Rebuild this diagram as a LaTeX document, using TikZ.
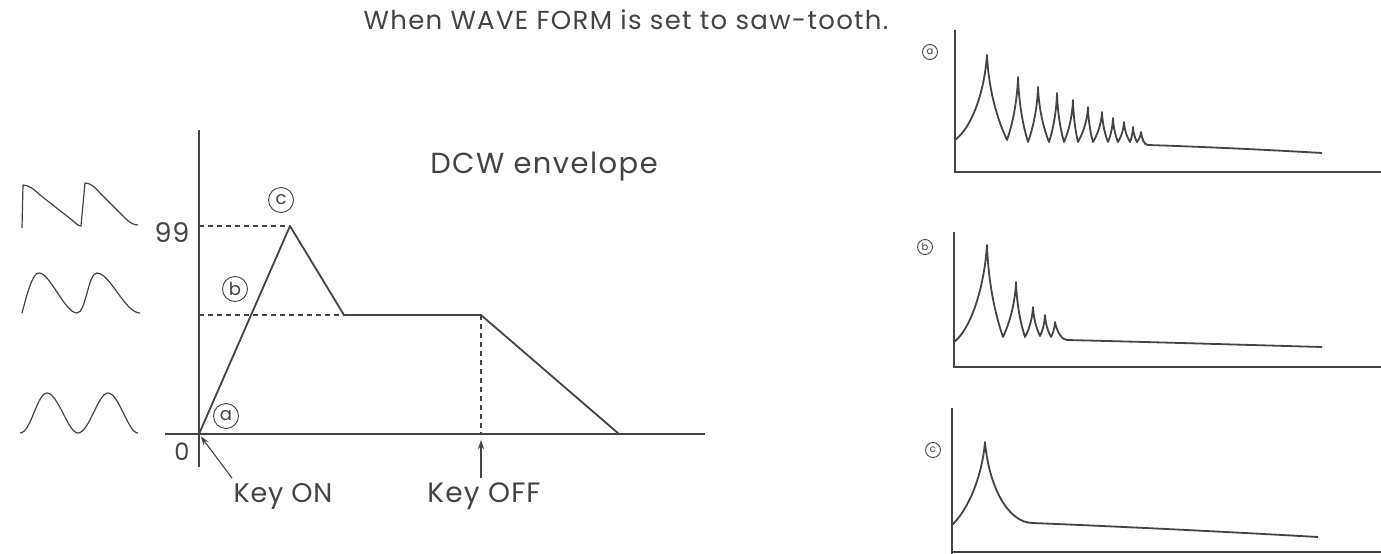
\documentclass[tikz,border=0pt]{standalone}
\usepackage{fontspec}
\setmainfont{Poppins}
\usetikzlibrary{arrows.meta}
\definecolor{ink}{HTML}{444444}
\begin{document}
\begin{tikzpicture}[x=1pt,y=-1pt]
\tikzset{
  lbl/.style={text=ink, font=\fontsize{27}{29}\selectfont\addfontfeature{LetterSpace=3}, inner sep=0pt},
  circ/.style={circle, draw=ink, line width=0.9pt, inner sep=0pt, minimum size=25pt, font=\fontsize{18}{18}\selectfont, text=ink},
  smallcirc/.style={circle, draw=ink, line width=0.9pt, inner sep=0pt, minimum size=15pt, font=\fontsize{10}{10}\selectfont, text=ink},
  axis/.style={line width=1.8pt, draw=ink},
  curve/.style={line width=1.8pt, draw=ink, line join=round},
  wave/.style={line width=1.2pt, draw=ink, line join=round},
  guide/.style={draw=ink, line width=1.1pt, dash pattern=on 5pt off 4pt},
  pointer/.style={draw=ink, line width=1.1pt, -{Stealth[length=9pt,width=6pt]}},
}
\useasboundingbox (0,0) rectangle (1381,554);
\fill[white] (0,0) rectangle (1381,554);

% title
\node[lbl, font=\fontsize{26}{28}\selectfont\addfontfeature{LetterSpace=5}] (title) at (626,20) {When WAVE FORM is set to saw-tooth.};
\node[lbl, font=\fontsize{29}{31}\selectfont\addfontfeature{LetterSpace=5}] (dcw) at (544,167) {DCW envelope};

% main graph
\coordinate (O) at (199,434);
\coordinate (ytop) at (199,130);
\coordinate (ybot) at (199,467);
\coordinate (xl) at (165,434);
\coordinate (xr) at (705,434);
\coordinate (P) at (290,226);
\coordinate (S1) at (344,315);
\coordinate (S2) at (481,315);
\coordinate (E) at (619,434);
\draw[axis] (ytop) -- (ybot);
\draw[axis] (xl) -- (xr);
\draw[guide] (O |- P) -- (P);
\draw[guide] (O |- S1) -- (S1);
\draw[guide] (S2) -- (S2 |- O);
\draw[curve] (O) -- (P) -- (S1) -- (S2) -- (E);

\node[lbl] (n99) at (172,233) {99};
\node[lbl, font=\fontsize{24}{26}\selectfont] (n0) at (182,452) {0};
\node[circ] (ca) at (226,416) {a};
\node[circ] (cb) at (235,289) {b};
\node[circ] (cc) at (281,200) {c};

\node[lbl] (keyon) at (283,496) {Key ON};
\node[lbl, font=\fontsize{28}{30}\selectfont\addfontfeature{LetterSpace=4}] (keyoff) at (484,496) {Key OFF};
\coordinate (konstart) at (232,478);
\coordinate (koffstart) at (481,478);
\draw[pointer, shorten >=3pt] (konstart) -- (O);
\draw[pointer, shorten >=6pt] (koffstart) -- (S2 |- O);

% left waveforms
\draw[wave] (22,228) -- (23,185) .. controls (28,185) and (34,189) .. (40,195)
  -- (72,220) .. controls (76,224) and (79,226) .. (81,226) -- (85,183)
  .. controls (90,183) and (95,187) .. (100,193) -- (125,218)
  .. controls (130,223) and (134,225) .. (138,225);
\draw[wave] (22,313) .. controls (28,290) and (33,273) .. (39,273)
  .. controls (50,273) and (65,313) .. (77,313)
  .. controls (86,313) and (88,273) .. (97,273)
  .. controls (110,273) and (125,313) .. (140,313);
\draw[wave] (20,433) .. controls (31,433) and (37,393) .. (47,393)
  .. controls (58,393) and (68,433) .. (78,433)
  .. controls (89,433) and (98,393) .. (108,393)
  .. controls (119,393) and (128,433) .. (138,433);

% right chart a
\draw[axis] (955,30) -- (955,172) -- (1381,172);
\node[smallcirc] (ra) at (930,52) {a};
\draw[curve] (955,140) .. controls +(16,-12) and +(-3,40) .. (987,55)
  \foreach \ppx/\ppy/\tx/\ty/\px/\py in {
    987/55/1007/140/1018/77,
    1018/77/1028/142/1038/87,
    1038/87/1049/142/1057/93,
    1057/93/1064/142/1073/100,
    1073/100/1078/142/1088/107,
    1088/107/1093/142/1102/112,
    1102/112/1108/142/1113/118,
    1113/118/1118/142/1124/122,
    1124/122/1130/142/1133/127,
    1133/127/1137/142/1141/132}{
    .. controls +({0.1*(\tx-\ppx)},{0.5*(\ty-\ppy)}) and +({-0.3*(\tx-\ppx)},{-0.15*(\ty-\ppy)}) .. (\tx,\ty)
    .. controls +({0.3*(\px-\tx)},{-0.15*(\ty-\py)}) and +({-0.1*(\px-\tx)},{0.5*(\ty-\py)}) .. (\px,\py)
  }
  .. controls +(1,7) and +(-4,0) .. (1148,145)
  .. controls (1210,147) and (1270,150) .. (1322,153);

% right chart b
\draw[axis] (954,232) -- (954,367) -- (1381,367);
\node[smallcirc] (rb) at (925,247) {b};
\draw[curve] (954,342) .. controls +(16,-12) and +(-3,45) .. (987,245)
  \foreach \ppx/\ppy/\tx/\ty/\px/\py in {
    987/245/1003/337/1016/282,
    1016/282/1025/337/1033/307,
    1033/307/1040/336/1045/315,
    1045/315/1051/337/1055/322}{
    .. controls +({0.1*(\tx-\ppx)},{0.5*(\ty-\ppy)}) and +({-0.3*(\tx-\ppx)},{-0.15*(\ty-\ppy)}) .. (\tx,\ty)
    .. controls +({0.3*(\px-\tx)},{-0.15*(\ty-\py)}) and +({-0.1*(\px-\tx)},{0.5*(\ty-\py)}) .. (\px,\py)
  }
  .. controls +(2,10) and +(-5,0) .. (1067,340)
  .. controls (1150,342) and (1250,345) .. (1322,347);

% right chart c
\draw[axis] (952,408) -- (952,554);
\draw[axis, line width=1.2pt] (952,552) -- (1381,552);
\node[smallcirc] (rc) at (933,450) {c};
\draw[curve] (952,525) .. controls +(16,-15) and +(-3,35) .. (985,442)
  .. controls +(4,45) and +(-25,0) .. (1033,523)
  .. controls (1130,527) and (1230,532) .. (1318,537);
\end{tikzpicture}
\end{document}
